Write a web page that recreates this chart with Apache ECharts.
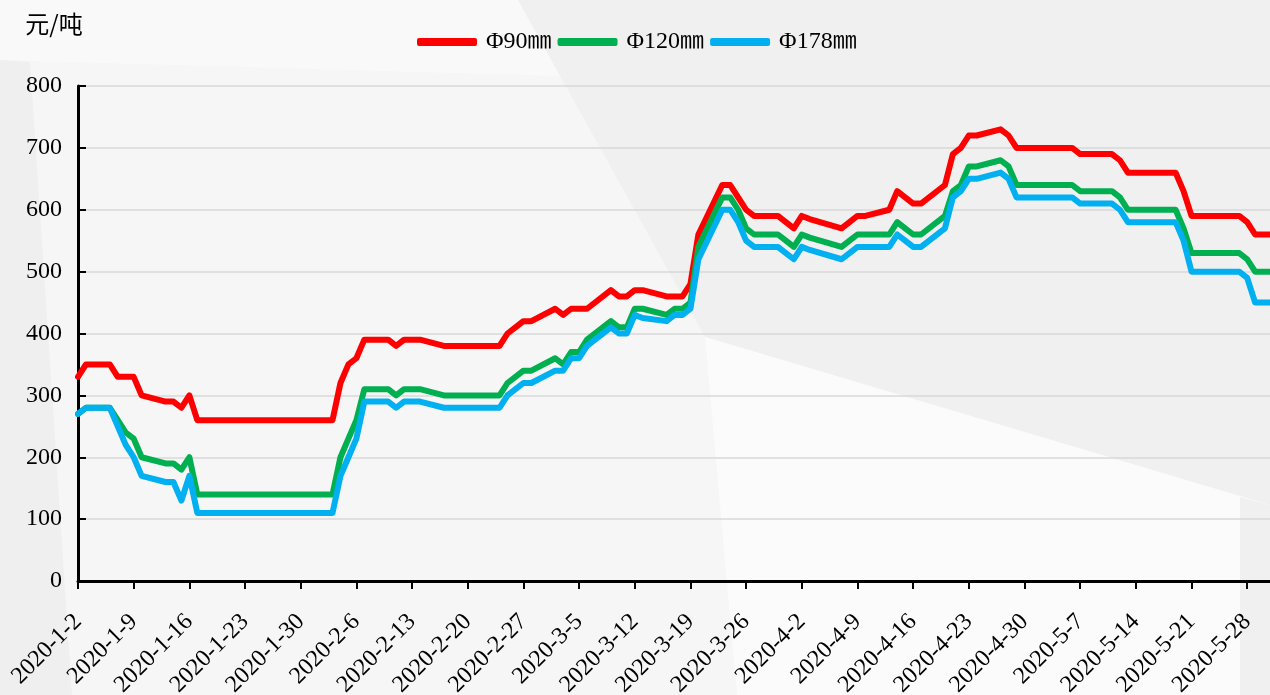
<!DOCTYPE html>
<html>
<head>
<meta charset="utf-8">
<title>无缝钢管价格</title>
<script src="https://cdn.jsdelivr.net/npm/echarts@6/dist/echarts.min.js"></script>
<style>
  html, body { margin: 0; padding: 0; }
  #main { width: 1270px; height: 695px; background: #f6f6f6; }
</style>
</head>
<body>
<div id="main"></div>
<script>
// 交易日（2020年）
const tradeDays = [
  '1-2', '1-3', '1-6', '1-7', '1-8', '1-9', '1-10', '1-13', '1-14', '1-15', '1-16', '1-17', '1-20', '1-21', '1-22', '1-23',
  '2-3', '2-4', '2-5', '2-6', '2-7', '2-10', '2-11', '2-12', '2-13', '2-14', '2-17', '2-18', '2-19', '2-20', '2-21', '2-24', '2-25', '2-26', '2-27', '2-28',
  '3-2', '3-3', '3-4', '3-5', '3-6', '3-9', '3-10', '3-11', '3-12', '3-13', '3-16', '3-17', '3-18', '3-19', '3-20', '3-23', '3-24', '3-25', '3-26', '3-27', '3-30', '3-31',
  '4-1', '4-2', '4-3', '4-7', '4-8', '4-9', '4-10', '4-13', '4-14', '4-15', '4-16', '4-17', '4-20', '4-21', '4-22', '4-23', '4-24', '4-27', '4-28', '4-29', '4-30',
  '5-6', '5-7', '5-8', '5-11', '5-12', '5-13', '5-14', '5-15', '5-18', '5-19', '5-20', '5-21', '5-22', '5-25', '5-26', '5-27', '5-28', '5-29',
  '6-1'
]

const phi90 = [
  330, 350, 350, 330, 330, 330, 300, 290, 290, 280, 300, 260, 260, 260, 260, 260,
  260, 320, 350, 360, 390, 390, 380, 390, 390, 390, 380, 380, 380, 380, 380, 380, 400, 410, 420, 420,
  440, 430, 440, 440, 440, 470, 460, 460, 470, 470, 460, 460, 460, 480, 560, 640, 640, 620, 600, 590, 590, 580,
  570, 590, 585, 570, 580, 590, 590, 600, 630, 620, 610, 610, 640, 690, 700, 720, 720, 730, 720, 700, 700,
  700, 690, 690, 690, 680, 660, 660, 660, 660, 660, 630, 590, 590, 590, 590, 590, 580, 560,
  560
]

const phi120 = [
  270, 280, 280, 260, 240, 230, 200, 190, 190, 180, 200, 140, 140, 140, 140, 140,
  140, 200, 230, 260, 310, 310, 300, 310, 310, 310, 300, 300, 300, 300, 300, 300, 320, 330, 340, 340,
  360, 350, 370, 370, 390, 420, 410, 410, 440, 440, 430, 440, 440, 450, 540, 620, 620, 600, 570, 560, 560, 550,
  540, 560, 555, 540, 550, 560, 560, 560, 580, 570, 560, 560, 590, 630, 640, 670, 670, 680, 670, 640, 640,
  640, 630, 630, 630, 620, 600, 600, 600, 600, 600, 570, 530, 530, 530, 530, 530, 520, 500,
  500
]

const phi178 = [
  270, 280, 280, 250, 220, 200, 170, 160, 160, 130, 170, 110, 110, 110, 110, 110,
  110, 170, 200, 230, 290, 290, 280, 290, 290, 290, 280, 280, 280, 280, 280, 280, 300, 310, 320, 320,
  340, 340, 360, 360, 380, 410, 400, 400, 430, 425, 420, 430, 430, 440, 520, 600, 600, 580, 550, 540, 540, 530,
  520, 540, 535, 520, 530, 540, 540, 540, 560, 550, 540, 540, 570, 620, 630, 650, 650, 660, 650, 620, 620,
  620, 610, 610, 610, 600, 580, 580, 580, 580, 580, 550, 500, 500, 500, 500, 500, 490, 450,
  450
]

const seriesNames = ['Φ90㎜', 'Φ120㎜', 'Φ178㎜']
const seriesColors = ['#ff0000', '#00b050', '#00b0f0']

// 日历日坐标轴：2020-1-2 到 2020-6-1
const days = []
for (let t = Date.UTC(2020, 0, 2); t <= Date.UTC(2020, 5, 1); t += 86400000) {
  const d = new Date(t)
  days.push((d.getUTCMonth() + 1) + '-' + d.getUTCDate())
}
const categories = days.map(d => '2020-' + d)

function toDaily(values) {
  const lookup = {}
  tradeDays.forEach((d, i) => { lookup[d] = values[i] })
  return days.map(d => (d in lookup ? lookup[d] : null))
}

const serifFont = "'Liberation Serif', 'Noto Sans CJK SC', serif"

const chart = echarts.init(document.getElementById('main'))
chart.setOption({
  animation: false,
  graphic: {
    elements: [
      // 背景几何色块
      { type: 'polygon', silent: true, z: -10, shape: { points: [[0, 0], [518, 0], [560, 76], [0, 60]] }, style: { fill: '#f9f9f9' } },
      { type: 'polygon', silent: true, z: -10, shape: { points: [[518, 0], [1270, 0], [1270, 505], [705, 337]] }, style: { fill: '#f0f0f0' } },
      { type: 'polygon', silent: true, z: -10, shape: { points: [[705, 337], [1270, 505], [1270, 695], [737, 695]] }, style: { fill: '#fbfbfb' } },
      { type: 'polygon', silent: true, z: -10, shape: { points: [[1240, 497], [1270, 505], [1270, 695], [1240, 695]] }, style: { fill: '#f0f0f0' } },
      { type: 'polygon', silent: true, z: -10, shape: { points: [[0, 60], [30, 62], [72, 695], [0, 695]] }, style: { fill: '#efefef' } }
    ]
  },
  legend: {
    left: 412,
    top: 25,
    icon: 'roundRect',
    itemWidth: 60,
    itemHeight: 8,
    itemGap: 6,
    textStyle: {
      fontFamily: serifFont,
      fontSize: 24,
      color: '#000',
      padding: [0, 0, 0, 4]
    },
    data: seriesNames
  },
  grid: {
    left: 78,
    right: -9,
    top: 86,
    bottom: 114,
    outerBoundsMode: 'none'
  },
  xAxis: {
    type: 'category',
    boundaryGap: false,
    data: categories,
    axisLine: { lineStyle: { color: '#000', width: 3 } },
    axisTick: { interval: 6, length: 8, lineStyle: { color: '#000', width: 2 } },
    axisLabel: {
      interval: 6,
      rotate: 45,
      margin: 37,
      fontFamily: serifFont,
      fontSize: 24,
      color: '#000'
    },
    splitLine: { show: false }
  },
  yAxis: {
    type: 'value',
    min: 0,
    max: 800,
    interval: 100,
    name: '元/吨',
    nameLocation: 'end',
    nameGap: 50,
    nameTextStyle: {
      fontFamily: "'Noto Sans CJK SC', sans-serif",
      fontSize: 24,
      color: '#000',
      padding: [0, 48, 0, 0]
    },
    axisLine: { show: true, lineStyle: { color: '#000', width: 3 } },
    axisTick: { show: true, inside: true, length: 8, lineStyle: { color: '#000', width: 2 } },
    axisLabel: {
      margin: 16,
      fontFamily: serifFont,
      fontSize: 24,
      color: '#000'
    },
    splitLine: { lineStyle: { color: '#d9d9d9', width: 1.5 } }
  },
  series: [phi90, phi120, phi178].map((vals, i) => ({
    name: seriesNames[i],
    type: 'line',
    data: toDaily(vals),
    connectNulls: true,
    showSymbol: false,
    symbol: 'none',
    color: seriesColors[i],
    lineStyle: { color: seriesColors[i], width: 6, cap: 'round', join: 'round' },
    z: 3 + i
  }))
})
</script>
</body>
</html>
